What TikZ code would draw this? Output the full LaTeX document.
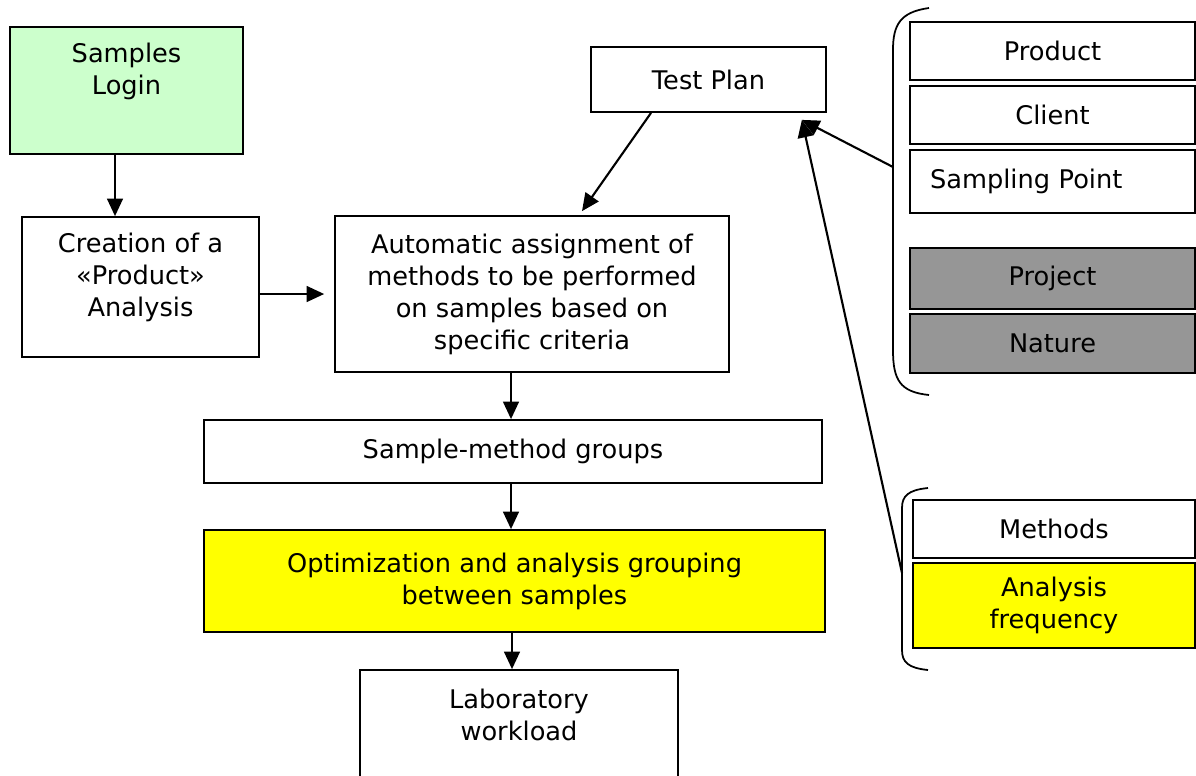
\documentclass[tikz,border=0pt]{standalone}
\usepackage{fontspec}
\setmainfont{DejaVu Sans}
\usetikzlibrary{arrows.meta, positioning}

\definecolor{loginGreen}{HTML}{CCFFCC}
\definecolor{markYellow}{HTML}{FFFF00}
\definecolor{critGray}{HTML}{969696}

\begin{document}
\begin{tikzpicture}[x=0.02cm, y=-0.02cm, >={Triangle[length=10pt, width=9pt]},
    box/.style={draw, line width=1pt, inner sep=0pt, align=center},
    txt/.style={align=center, inner sep=0pt},
    link/.style={->, line width=1.2pt},
    every node/.style={font=\fontsize{14.6}{18.2}\selectfont}]
                \clip (0,0) rectangle (1196,775);

                \node[box, fill=loginGreen, minimum width=4.66cm, minimum height=2.54cm] (login) at (126.5,90.5) {};
                \node[txt] (loginT) at (126.5,71) {Samples\\Login};
                \node[box, minimum width=4.74cm, minimum height=2.80cm] (create) at (140.5,287) {};
                \node[txt] (createT) at (140.5,277.5) {Creation of a\\«Product»\\Analysis};
                \node[box, minimum width=7.88cm, minimum height=3.12cm] (auto) at (532,294) {Automatic assignment of\\methods to be performed\\on samples based on\\specific criteria};
                \node[box, minimum width=4.70cm, minimum height=1.30cm] (plan) at (708.5,79.5) {Test Plan};
                \node[box, minimum width=12.36cm, minimum height=1.26cm] (groups) at (513,451.5) {Sample-method groups};
                \node[box, fill=markYellow, minimum width=12.42cm, minimum height=2.04cm] (optim) at (514.5,581) {Optimization and analysis grouping\\between samples};
                \node[box, minimum width=6.36cm, minimum height=2.60cm] (lab) at (519,735) {};
                \node[txt] (labT) at (519,715) {Laboratory\\workload};

                \node[box, minimum width=5.70cm, minimum height=1.16cm] (product) at (1052.5,51) {Product};
                \node[box, minimum width=5.70cm, minimum height=1.16cm] (client) at (1052.5,115) {Client};
                \node[box, text width=4.9cm, inner xsep=0.4cm, align=left, minimum height=1.26cm] (sampling) at (1052.5,181.5) {Sampling Point};
                \node[box, fill=critGray, minimum width=5.70cm, minimum height=1.22cm] (project) at (1052.5,278.5) {Project};
                \node[box, fill=critGray, minimum width=5.70cm, minimum height=1.18cm] (nature) at (1052.5,343.5) {Nature};
                \node[box, minimum width=5.64cm, minimum height=1.16cm] (methods) at (1054,529) {Methods};
                \node[box, fill=markYellow, minimum width=5.64cm, minimum height=1.70cm] (freq) at (1054,605.5) {Analysis\\frequency};

                \draw[line width=1pt] (929,8) .. controls (900,12) and (893,25) .. (893,50) -- (893,350) .. controls (893,380) and (900,392) .. (929,395);
                \draw[line width=1pt] (928,488) .. controls (908,490) and (902,496) .. (902,508) -- (902,650) .. controls (902,662) and (908,668) .. (928,670);
                \coordinate (topBrace) at (893,167);
                \coordinate (lowBrace) at (902,573);
                \coordinate (tip) at ([xshift=-0.5cm, yshift=-0.14cm]plan.south east);

                \draw[link] ([xshift=-0.23cm]login.south) -- ([xshift=-0.23cm]login.south |- create.north);
                \draw[link] (create.east |- auto.west) -- ([xshift=-0.2cm]auto.west);
                \draw[link] ([xshift=-1.15cm]plan.south) -- ([xshift=1cm, yshift=0.08cm]auto.north);
                \draw[link] ([xshift=-0.42cm]auto.south) -- ([xshift=-0.42cm]auto.south |- groups.north);
                \draw[link] ([xshift=-0.04cm]groups.south) -- ([xshift=-0.04cm]groups.south |- optim.north);
                \draw[link] ([xshift=-0.05cm]optim.south) -- ([xshift=-0.05cm]optim.south |- lab.north);
                \draw[link] (topBrace) -- (tip);
                \draw[link] (lowBrace) -- (tip);
            \end{tikzpicture}
\end{document}
